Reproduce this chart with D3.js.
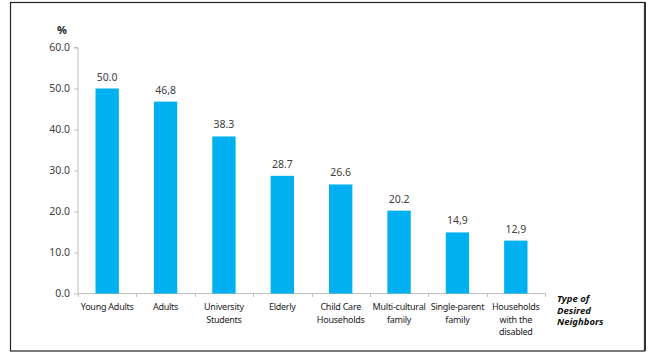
<!DOCTYPE html>
<html>
<head>
<meta charset="utf-8">
<script src="https://cdn.jsdelivr.net/npm/d3@7"></script>
<style>
  body { margin: 0; background: #fff; }
  svg { display: block; font-family: "Noto Sans", sans-serif; }
</style>
</head>
<body>
<svg id="chart" width="652" height="354"></svg>
<script>
const categories = [
  ["Young Adults"],
  ["Adults"],
  ["University", "Students"],
  ["Elderly"],
  ["Child Care", "Households"],
  ["Multi-cultural", "family"],
  ["Single-parent", "family"],
  ["Households", "with the", "disabled"]
]
const values = [50.0, 46.8, 38.3, 28.7, 26.6, 20.2, 14.9, 12.9]
const valueLabels = ["50.0", "46,8", "38.3", "28.7", "26.6", "20.2", "14,9", "12,9"]
const yTicks = [0, 10, 20, 30, 40, 50, 60]

const svg = d3.select('#chart')

// frame
svg.append('rect')
  .attr('x', 10.5).attr('y', 2.5)
  .attr('width', 634).attr('height', 348.5)
  .attr('fill', 'none').attr('stroke', '#222').attr('stroke-width', 1.2)
svg.append('line')
  .attr('x1', 645).attr('x2', 645).attr('y1', 2).attr('y2', 351)
  .attr('stroke', '#333').attr('stroke-width', 2)

const x = d3.scaleBand()
  .domain(d3.range(categories.length))
  .range([78, 545])
  .paddingInner(0.6)
  .paddingOuter(0.3)

const xTick = d3.scaleLinear().domain([0, categories.length]).range([78, 545])

const y = d3.scaleLinear().domain([0, 60]).range([293.5, 47.5])

// y axis
const yAxis = svg.append('g')
  .attr('transform', 'translate(78,0)')
  .call(d3.axisLeft(y).tickValues(yTicks).tickFormat(d3.format('.1f')).tickSize(4))
yAxis.select('.domain').attr('stroke', '#bfbfbf').attr('d', 'M-4,47.5H0V293.5')
yAxis.selectAll('.tick line').attr('stroke', '#bfbfbf')
yAxis.selectAll('.tick text')
  .attr('fill', '#404040').attr('font-size', 10.5).attr('x', -8)
  .attr('font-family', '"Noto Sans", sans-serif')

// x axis line and ticks
const xAxis = svg.append('g')
xAxis.append('line')
  .attr('x1', 78).attr('x2', 545).attr('y1', 293.5).attr('y2', 293.5)
  .attr('stroke', '#bfbfbf')
xAxis.selectAll('line.tk')
  .data(d3.range(categories.length + 1))
  .join('line')
  .attr('class', 'tk')
  .attr('x1', d => Math.round(xTick(d)) + 0.5).attr('x2', d => Math.round(xTick(d)) + 0.5)
  .attr('y1', 293.5).attr('y2', 297)
  .attr('stroke', '#bfbfbf')

// bars
svg.selectAll('rect.bar')
  .data(values)
  .join('rect')
  .attr('class', 'bar')
  .attr('x', (d, i) => x(i))
  .attr('width', x.bandwidth())
  .attr('y', d => y(d))
  .attr('height', d => y(0) - y(d))
  .attr('fill', '#00b0f0')

// value labels
svg.selectAll('text.val')
  .data(values)
  .join('text')
  .attr('class', 'val')
  .attr('x', (d, i) => x(i) + x.bandwidth() / 2)
  .attr('y', d => y(d) - 8)
  .attr('text-anchor', 'middle')
  .attr('font-size', 10.5)
  .attr('fill', '#404040')
  .text((d, i) => valueLabels[i])

// category labels
const cat = svg.selectAll('text.cat')
  .data(categories)
  .join('text')
  .attr('class', 'cat')
  .attr('text-anchor', 'middle')
  .attr('font-size', 9)
  .attr('letter-spacing', -0.25)
  .attr('fill', '#222')
cat.selectAll('tspan')
  .data((d, i) => d.map(s => ({s, i})))
  .join('tspan')
  .attr('x', d => xTick(d.i + 0.5))
  .attr('y', (d, j) => 310 + j * 12.5)
  .text(d => d.s)

// unit label
svg.append('text')
  .attr('x', 62).attr('y', 34)
  .attr('text-anchor', 'middle')
  .attr('font-size', 11).attr('font-weight', 'bold')
  .attr('fill', '#222')
  .text('%')

// axis title
const title = svg.append('text')
  .attr('font-size', 9.5).attr('font-weight', 'bold').attr('font-style', 'italic')
  .attr('fill', '#111')
;['Type of', 'Desired', 'Neighbors'].forEach((s, j) => {
  title.append('tspan').attr('x', 557).attr('y', 302 + j * 11.7).text(s)
})
</script>
</body>
</html>
